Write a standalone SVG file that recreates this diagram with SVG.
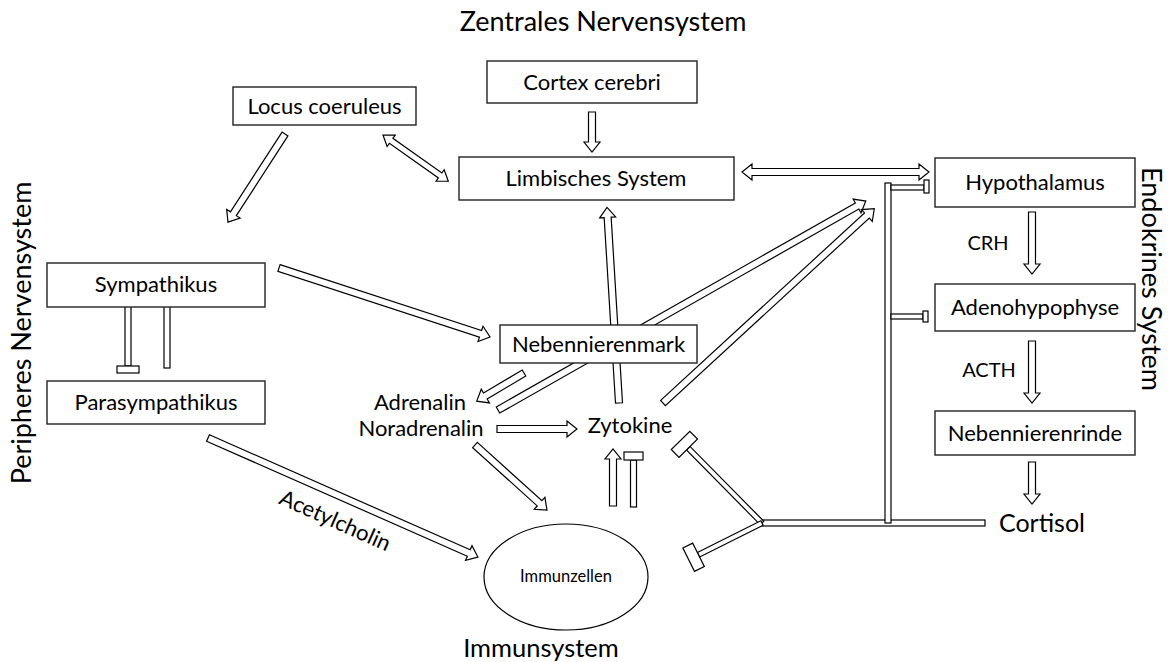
<svg xmlns="http://www.w3.org/2000/svg" width="1169" height="662" viewBox="0 0 1169 662">
<style>
.box{fill:#fff;stroke:#222;stroke-width:1.4}
.a{fill:#fff;stroke:#000;stroke-width:1.2;stroke-linejoin:miter}
.t{font-family:Lato,"Liberation Sans",sans-serif;fill:#000;text-anchor:middle}
.l{font-size:22px}
.big{font-size:27px}
</style>
<rect width="1169" height="662" fill="#fff"/>
<g id="region-labels">
<text class="t big" x="603" y="31">Zentrales Nervensystem</text>
<text class="t big" transform="translate(31,333) rotate(-90)">Peripheres Nervensystem</text>
<text class="t big" transform="translate(1142,279) rotate(90)">Endokrines System</text>
<text class="t" style="font-size:25.5px" x="541" y="657">Immunsystem</text>
</g>
<g id="connectors">
<!-- Cortex -> Limbisches -->
<polygon class="a" transform="translate(592,112) rotate(90)" points="0,-3.5 30,-3.5 30,-8 40,0 30,8 30,3.5 0,3.5"/>
<!-- Locus <-> Limbisches -->
<polygon class="a" transform="translate(383,135) rotate(35.3)" points="0,0 10,-7 10,-3 70,-3 70,-7 80,0 70,7 70,3 10,3 10,7"/>
<!-- Locus -> Sympathikus -->
<polygon class="a" transform="translate(285,134) rotate(122.9)" points="0,-3.5 95,-3.5 95,-8 105,0 95,8 95,3.5 0,3.5"/>
<!-- Limbisches <-> Hypothalamus -->
<polygon class="a" transform="translate(742,172)" points="0,0 10,-8 10,-3.5 177,-3.5 177,-8 187,0 177,8 177,3.5 10,3.5 10,8"/>
<!-- Sympathikus -> Nebennierenmark -->
<polygon class="a" transform="translate(279,268) rotate(18.1)" points="0,-3.5 212,-3.5 212,-8 222,0 212,8 212,3.5 0,3.5"/>
<!-- Parasympathikus -> Immunzellen (Acetylcholin) -->
<polygon class="a" transform="translate(208,438) rotate(23.8)" points="0,-3.5 285,-3.5 285,-8 295,0 285,8 285,3.5 0,3.5"/>
<!-- Nebennierenmark -> Adrenalin -->
<polygon class="a" transform="translate(524,373) rotate(149.2)" points="0,-3.5 45,-3.5 45,-8 55,0 45,8 45,3.5 0,3.5"/>
<!-- Adrenalin -> Hypothalamus -->
<polygon class="a" transform="translate(498,410) rotate(-29.6)" points="0,-3.5 413,-3.5 413,-8 423,0 413,8 413,3.5 0,3.5"/>
<!-- Noradrenalin -> Zytokine -->
<polygon class="a" transform="translate(497,429)" points="0,-3.5 70,-3.5 70,-8 80,0 70,8 70,3.5 0,3.5"/>
<!-- Noradrenalin -> Immunzellen -->
<polygon class="a" transform="translate(475,445) rotate(42.1)" points="0,-3.5 87,-3.5 87,-8 97,0 87,8 87,3.5 0,3.5"/>
<!-- Zytokine -> Limbisches -->
<polygon class="a" transform="translate(619,403) rotate(-93.5)" points="0,-3.5 186,-3.5 186,-8 196,0 186,8 186,3.5 0,3.5"/>
<!-- Zytokine -> Hypothalamus -->
<polygon class="a" transform="translate(663,403) rotate(-42.6)" points="0,-3.5 277,-3.5 277,-8 287,0 277,8 277,3.5 0,3.5"/>
<!-- Immunzellen -> Zytokine -->
<polygon class="a" transform="translate(613,506) rotate(-90)" points="0,-3.5 47,-3.5 47,-8 57,0 47,8 47,3.5 0,3.5"/>
<!-- Immunzellen -| Zytokine -->
<rect class="a" x="630.5" y="460" width="6" height="47"/>
<rect class="a" x="624" y="452" width="19" height="8"/>
<!-- Hypothalamus -> Adenohypophyse -->
<polygon class="a" transform="translate(1032,212) rotate(90)" points="0,-3.5 52,-3.5 52,-8 62,0 52,8 52,3.5 0,3.5"/>
<!-- Adenohypophyse -> Nebennierenrinde -->
<polygon class="a" transform="translate(1032,341) rotate(90)" points="0,-3.5 52,-3.5 52,-8 62,0 52,8 52,3.5 0,3.5"/>
<!-- Nebennierenrinde -> Cortisol -->
<polygon class="a" transform="translate(1032,462) rotate(90)" points="0,-3.5 32,-3.5 32,-8 42,0 32,8 32,3.5 0,3.5"/>
<!-- Sympathikus -| Parasympathikus -->
<rect class="a" x="125" y="292" width="6" height="74"/>
<rect class="a" x="117" y="366" width="22" height="7"/>
<!-- Parasympathikus -| Sympathikus -->
<rect class="a" x="164" y="296" width="6" height="72"/>
<rect class="a" x="155" y="289" width="23" height="7"/>
<!-- Cortisol feedback -->
<rect class="a" x="762" y="520" width="223" height="6"/>
<rect class="a" x="885" y="183" width="6" height="340"/>
<rect class="a" x="891" y="185" width="33" height="5"/>
<rect class="a" x="924" y="180" width="5" height="13"/>
<rect class="a" x="891" y="314" width="32" height="5"/>
<rect class="a" x="923" y="311" width="5" height="11"/>
<g transform="translate(762,523) rotate(-134.6)">
<rect class="a" x="0" y="-2.5" width="105" height="5"/>
<rect class="a" x="105" y="-13" width="11" height="26"/>
</g>
<g transform="translate(762,523) rotate(153.4)">
<rect class="a" x="0" y="-2.5" width="71" height="5"/>
<rect class="a" x="71" y="-13" width="11" height="26"/>
</g>
</g>
<g id="cortex"><rect class="box" x="487" y="61" width="210" height="42"/><text class="t l" x="592" y="90">Cortex cerebri</text></g>
<g id="locus"><rect class="box" x="233" y="87" width="183" height="38"/><text class="t l" x="324.5" y="114">Locus coeruleus</text></g>
<g id="limbisch"><rect class="box" x="459" y="157" width="275" height="43"/><text class="t l" x="596" y="186">Limbisches System</text></g>
<g id="hypothalamus"><rect class="box" x="935" y="158" width="200" height="49"/><text class="t l" x="1035" y="190">Hypothalamus</text></g>
<g id="adeno"><rect class="box" x="935" y="284" width="200" height="47"/><text class="t l" x="1035" y="315">Adenohypophyse</text></g>
<g id="nnr"><rect class="box" x="935" y="411" width="200" height="44"/><text class="t l" x="1035" y="441">Nebennierenrinde</text></g>
<g id="sympathikus"><rect class="box" x="47" y="263" width="218" height="44"/><text class="t l" x="156" y="292">Sympathikus</text></g>
<g id="parasympathikus"><rect class="box" x="47" y="381" width="218" height="43"/><text class="t l" x="156" y="410">Parasympathikus</text></g>
<g id="nnm"><rect class="box" x="500" y="325" width="197" height="38"/><text class="t l" x="598.5" y="352">Nebennierenmark</text></g>
<g id="immunzellen"><ellipse cx="566" cy="577" rx="82" ry="53" fill="#fff" stroke="#000" stroke-width="1.2"/><text class="t" style="font-size:16.5px" x="566" y="582">Immunzellen</text></g>
<g id="adrenalin"><text class="t l" x="420" y="410">Adrenalin</text><text class="t l" x="421" y="436">Noradrenalin</text></g>
<g id="zytokine"><text class="t l" x="630" y="433">Zytokine</text></g>
<g id="cortisol"><text class="t" style="font-size:25px" x="1042" y="532">Cortisol</text></g>
<g id="labels">
<text class="t" style="font-size:20px" x="988" y="250">CRH</text>
<text class="t" style="font-size:20px" x="989" y="377">ACTH</text>
<text class="t l" transform="translate(335,521) rotate(24)" dy="7">Acetylcholin</text>
</g>
</svg>
